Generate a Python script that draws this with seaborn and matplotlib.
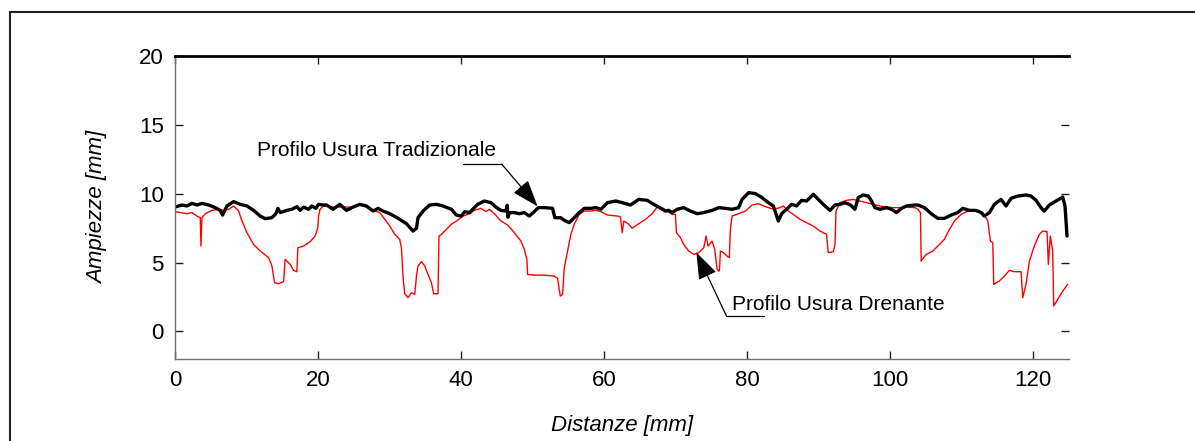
import matplotlib
matplotlib.use("Agg")
import matplotlib.pyplot as plt
from matplotlib.lines import Line2D
import seaborn as sns
import pandas as pd

# ---------------- data (mm) ----------------
trad_x = [0.0, 0.98, 1.68, 2.37, 3.07, 3.77, 4.71, 5.63, 6.33, 6.66, 7.26, 8.20, 9.12, 10.06, 10.99,
          11.91, 12.61, 13.55, 14.11, 14.39, 14.71, 15.64, 16.34, 17.04, 17.50, 17.97, 18.67, 19.13,
          19.69, 20.07, 20.77, 21.19, 22.11, 23.04, 23.98, 24.90, 25.84, 26.77, 27.70, 28.39, 29.09,
          30.03, 31.19, 32.36, 33.28, 33.76, 33.98, 34.68, 35.61, 36.55, 37.47, 38.65, 39.34, 40.04,
          40.50, 41.20, 41.62, 42.32, 43.25, 44.18, 44.87, 45.57, 46.27, 46.45, 46.55, 46.75, 47.44,
          48.14, 48.84, 49.54, 50.24, 50.80, 51.63, 52.79, 53.11, 53.95, 54.43, 55.13, 55.82, 56.52,
          57.22, 58.14, 58.84, 59.54, 60.47, 61.63, 62.53, 63.69, 64.85, 66.02, 66.94, 67.64, 68.58,
          69.04, 69.51, 70.21, 71.13, 72.07, 73.00, 73.93, 75.10, 76.02, 76.96, 77.89, 78.81, 79.29,
          80.21, 81.15, 82.08, 82.96, 83.66, 84.36, 84.82, 85.52, 86.22, 86.91, 87.61, 88.31, 89.25,
          89.94, 90.64, 91.58, 92.28, 92.97, 93.67, 94.46, 95.07, 95.53, 96.23, 96.93, 97.39, 97.86,
          98.56, 99.48, 100.18, 100.88, 101.58, 102.28, 103.45, 103.87, 104.79, 105.73, 106.66,
          107.58, 108.52, 109.45, 110.15, 111.08, 112.01, 112.71, 113.17, 113.87, 114.57, 115.50,
          116.20, 116.90, 117.84, 118.99, 119.69, 120.39, 121.09, 121.55, 122.25, 123.18, 124.12,
          124.44, 124.72]
trad_y = [9.03, 9.18, 9.11, 9.30, 9.18, 9.30, 9.18, 8.99, 8.79, 8.45, 9.11, 9.43, 9.23, 9.11, 8.79,
          8.38, 8.19, 8.26, 8.55, 8.94, 8.63, 8.79, 8.87, 9.06, 8.79, 9.03, 8.87, 9.11,
          8.94, 9.23, 9.18, 9.18, 8.87, 9.23, 8.79, 9.03, 9.23, 9.11, 8.74, 8.94, 8.74,
          8.55, 8.21, 7.83, 7.29, 7.49, 8.26, 8.74, 9.18, 9.23, 9.11, 8.87, 8.45, 8.38,
          8.70, 8.63, 8.87, 9.23, 9.47, 9.35, 9.03, 8.79, 8.74, 9.16, 8.29, 8.63, 8.63,
          8.55, 8.63, 8.38, 8.70, 8.99, 8.99, 8.94, 8.26, 8.26, 8.07, 7.90, 8.26, 8.63,
          8.94, 8.94, 8.99, 8.87, 9.35, 9.47, 9.35, 9.18, 9.59, 9.52, 9.23, 9.03, 8.74,
          8.79, 8.63, 8.87, 8.99, 8.74, 8.55, 8.63, 8.79, 8.99, 8.94, 8.87, 8.99, 9.59,
          10.08, 10.01, 9.72, 9.35, 9.11, 8.02, 8.55, 8.87, 9.23, 9.11, 9.52, 9.47, 9.96,
          9.59, 9.23, 8.79, 9.18, 9.23, 9.35, 9.18, 8.87, 9.72, 9.91, 9.83, 9.47, 8.99,
          8.87, 8.99, 8.87, 8.63, 8.94, 9.11, 9.18, 9.18, 8.99, 8.55, 8.21,
          8.21, 8.45, 8.63, 8.94, 8.79, 8.79, 8.63, 8.38, 8.63, 9.23, 9.59,
          9.11, 9.67, 9.83, 9.91, 9.83, 9.52, 8.99, 8.74, 9.18, 9.47, 9.76,
          9.11, 6.93]

dren_x = [0.0, 0.74, 1.68, 2.37, 3.07, 3.53, 3.63, 3.77, 4.23, 5.17, 6.10, 6.80, 7.50, 8.20, 8.90,
          9.36, 10.06, 10.99, 11.91, 13.09, 13.55, 13.92, 14.48, 15.18, 15.40, 16.10, 16.58, 17.04,
          17.18, 17.97, 18.90, 19.59, 19.97, 20.07, 20.29, 20.77, 21.19, 22.11, 23.04, 23.98, 24.90,
          25.84, 26.77, 27.70, 28.63, 29.33, 30.03, 30.73, 31.42, 31.66, 31.89, 32.12, 32.58, 33.06,
          33.52, 33.76, 33.98, 34.46, 34.92, 35.38, 35.85, 36.17, 36.77, 36.91, 37.25, 37.95, 38.65,
          39.34, 40.27, 41.20, 41.86, 42.78, 43.48, 43.95, 44.65, 45.57, 46.51, 47.44, 48.37, 48.84,
          49.20, 49.30, 50.24, 51.63, 53.03, 53.49, 53.87, 54.19, 54.43, 54.89, 55.35, 55.82, 56.52,
          57.22, 58.14, 58.84, 59.54, 60.47, 61.87, 62.29, 62.53, 62.75, 63.45, 63.92, 64.85, 65.78,
          66.72, 67.42, 68.11, 68.81, 69.51, 69.97, 70.11, 70.67, 71.13, 71.83, 72.53, 73.23, 73.93,
          74.26, 74.54, 75.10, 75.46, 75.80, 76.12, 76.26, 76.72, 77.19, 77.51, 77.65, 77.89, 78.81,
          79.75, 80.68, 81.61, 82.30, 82.96, 83.66, 84.59, 85.06, 85.75, 86.45, 87.39, 88.31, 89.25,
          90.18, 91.10, 91.34, 92.04, 92.28, 92.42, 92.97, 93.90, 94.83, 95.77, 96.69, 97.63, 98.56,
          99.48, 100.42, 101.35, 102.28, 103.45, 103.87, 104.23, 104.33, 105.03, 105.96, 106.89,
          107.58, 108.28, 108.98, 109.92, 110.85, 111.77, 112.95, 113.65, 114.01, 114.34, 114.48,
          115.26, 115.96, 116.66, 117.36, 118.30, 118.53, 118.99, 119.46, 120.15, 120.85, 121.33,
          121.93, 122.11, 122.39, 122.72, 122.86, 123.42, 124.12, 124.82]
dren_y = [8.70, 8.63, 8.55, 8.63, 8.38, 8.26, 6.20, 8.26, 8.55, 8.79, 8.87, 8.79, 8.87, 9.11, 8.74,
          8.02, 7.17, 6.32, 5.84, 5.36, 4.75, 3.54, 3.47, 3.61, 5.23, 4.87, 4.43, 4.34,
          6.08, 6.20, 6.52, 6.93, 7.54, 8.38, 8.87, 9.11, 9.11, 9.03, 9.03, 9.03, 9.03,
          9.18, 9.03, 8.79, 8.63, 8.14, 7.65, 7.05, 6.69, 6.08, 3.90, 2.74, 2.45, 2.81,
          2.69, 4.02, 4.75, 5.07, 4.75, 4.14, 3.54, 2.74, 2.74, 6.93, 7.05, 7.41, 7.78,
          8.02, 8.38, 8.55, 8.79, 8.94, 8.70, 8.87, 8.55, 8.02, 7.73, 7.17, 6.56, 5.96,
          5.23, 4.14, 4.09, 4.09, 4.02, 3.85, 2.57, 2.69, 4.63, 5.84, 7.05, 7.78, 8.50,
          8.74, 8.74, 8.79, 8.70, 8.45, 8.38, 8.31, 7.17, 8.02, 7.78, 7.49, 7.83, 8.14,
          8.55, 9.03, 8.99, 8.74, 8.50, 8.50, 7.17, 6.81, 6.32, 5.84, 5.60, 5.72, 6.08,
          6.93, 6.20, 6.56, 5.96, 4.51, 4.38, 5.84, 5.72, 5.47, 5.36, 7.41, 8.38, 8.55,
          8.74, 9.18, 9.28, 9.11, 8.99, 8.87, 8.99, 9.11, 8.74, 8.50, 8.14, 7.90, 7.65,
          7.29, 7.05, 5.72, 5.79, 6.32, 8.74, 9.35, 9.52, 9.59, 9.47, 9.35, 9.23, 9.11,
          9.03, 8.99, 8.99, 9.03, 8.99, 8.87, 8.63, 5.11, 5.60, 5.84, 6.32,
          6.69, 7.41, 8.02, 8.50, 8.74, 8.74, 8.63, 8.02, 6.56, 6.45, 3.42,
          3.66, 4.02, 4.43, 4.34, 4.34, 2.45, 3.42, 5.11, 6.20, 7.05, 7.29,
          7.25, 4.87, 6.93, 5.84, 1.85, 2.33, 2.93, 3.42]

x_ticks = [0, 20, 40, 60, 80, 100, 120]
y_ticks = [0, 5, 10, 15, 20]
label_trad = "Profilo Usura Tradizionale"
label_dren = "Profilo Usura Drenante"
x_label = "Distanze [mm]"
y_label = "Ampiezze [mm]"

# ---------------- figure ----------------
sns.set_theme(style="white")
plt.rcParams["font.family"] = ["Liberation Sans", "DejaVu Sans"]

fig = plt.figure(figsize=(11.95, 4.41), dpi=100)
ax = fig.add_axes([175 / 1195, 1 - 359 / 441, (1069 - 175) / 1195, (359 - 56) / 441])

df_d = pd.DataFrame({"x": dren_x, "y": dren_y})
df_t = pd.DataFrame({"x": trad_x, "y": trad_y})
sns.lineplot(data=df_d, x="x", y="y", ax=ax, color="#ff0000", linewidth=1.0,
             sort=False, estimator=None)
sns.lineplot(data=df_t, x="x", y="y", ax=ax, color="black", linewidth=2.4,
             sort=False, estimator=None)

ax.set_xlim(0, 125)
ax.set_ylim(-2, 20)
ax.set_xticks(x_ticks)
ax.set_yticks(y_ticks)
ax.set_xticklabels([str(v) for v in x_ticks])
ax.set_yticklabels([str(v) for v in y_ticks])

for s in ["left", "bottom"]:
    ax.spines[s].set_color("#707070")
    ax.spines[s].set_linewidth(1.0)
ax.spines["top"].set_color("black")
ax.spines["top"].set_linewidth(2.0)
ax.spines["right"].set_visible(False)

ax.tick_params(axis="both", which="major", direction="in", length=6, width=1.0,
               color="#202020", labelsize=16, labelcolor="black", pad=8)
ax.tick_params(axis="x", top=True, bottom=True)
ax.tick_params(axis="y", left=True, right=True)

ax.set_xlabel(x_label, fontsize=16, style="italic", labelpad=17, color="black")
ax.set_ylabel(y_label, fontsize=16, style="italic", labelpad=22, color="black")

# annotations
arrow_kw = dict(arrowstyle="-|>,head_length=1.4,head_width=0.5", color="black",
                lw=0.9, shrinkA=0, shrinkB=0)
ax.text(11.4, 13.15, label_trad, fontsize=15, va="center", ha="left", color="black")
ax.plot([40.2, 45.7], [12.14, 12.14], color="black", lw=0.9)
ax.annotate("", xy=(50.7, 9.08), xytext=(45.7, 12.14), arrowprops=arrow_kw)

ax.text(77.9, 1.95, label_dren, fontsize=15, va="center", ha="left", color="black")
ax.plot([77.1, 82.4], [1.13, 1.13], color="black", lw=0.9)
ax.annotate("", xy=(72.9, 5.74), xytext=(77.1, 1.13), arrowprops=arrow_kw)

# outer frame (left and top edges visible)
fig.add_artist(Line2D([10 / 1195, 10 / 1195], [0, 1 - 12 / 441], transform=fig.transFigure,
                      color="#202020", lw=1.5))
fig.add_artist(Line2D([10 / 1195, 1], [1 - 12 / 441, 1 - 12 / 441], transform=fig.transFigure,
                      color="#202020", lw=1.5))

fig.savefig("out.png", dpi=100)
